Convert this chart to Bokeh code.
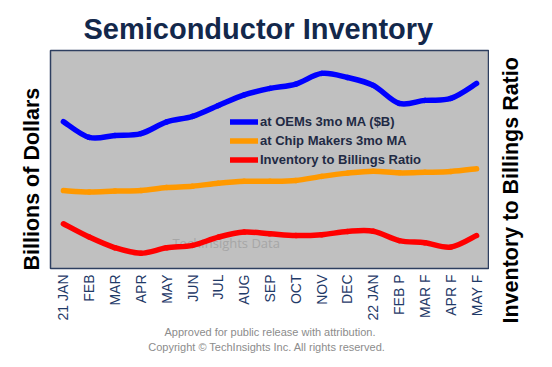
from math import pi
from bokeh.plotting import figure
from bokeh.layouts import row
from bokeh.models import (FactorRange, Range1d, Label, Legend, LegendItem,
                          Title, ColumnDataSource)
from bokeh.embed import file_html
from bokeh.resources import INLINE

months = ["21 JAN", "FEB", "MAR", "APR", "MAY", "JUN", "JUL", "AUG", "SEP",
          "OCT", "NOV", "DEC", "22 JAN", "FEB P", "MAR F", "APR F", "MAY F"]
oem_inventory = [53.9, 48.1, 48.8, 49.5, 53.8, 55.8, 59.8, 63.7, 66.1,
                 67.7, 71.6, 70.1, 67.2, 60.6, 61.7, 62.4, 67.9]
chipmaker_inventory = [28.6, 28.1, 28.4, 28.6, 29.7, 30.2, 31.3, 32.0, 32.0,
                       32.3, 33.8, 35.0, 35.7, 35.1, 35.3, 35.6, 36.6]
inv_to_billings = [0.805, 0.744, 0.695, 0.670, 0.695, 0.706, 0.744, 0.767, 0.759,
                   0.751, 0.755, 0.770, 0.771, 0.728, 0.718, 0.698, 0.751]
series_names = ["at OEMs 3mo MA ($B)", "at Chip Makers 3mo MA", "Inventory to Billings Ratio"]

NAVY = "#13284B"
TICK = "#1F3A68"

p = figure(width=489, height=367, output_backend="svg", toolbar_location=None,
           x_range=FactorRange(factors=months, range_padding=0),
           y_range=Range1d(0, 80),
           min_border_left=50, min_border_right=0, min_border_top=50, min_border_bottom=99)
p.extra_y_ranges = {"ratio": Range1d(0.6, 1.6)}

p.title.text = "Semiconductor Inventory"
p.title.text_font = "Liberation Sans"
p.title.text_font_size = "29px"
p.title.text_font_style = "bold"
p.title.text_color = NAVY
p.title.align = "left"
p.title.offset = 33
p.title.standoff = 12

p.background_fill_color = "#C0C0C0"
p.border_fill_color = "white"
p.outline_line_color = "#2E3F60"
p.outline_line_width = 1.5
p.xgrid.visible = False
p.ygrid.visible = False

p.yaxis.visible = False
p.xaxis.axis_line_color = None
p.xaxis.major_tick_line_color = None
p.xaxis.minor_tick_line_color = None
p.xaxis.major_tick_out = 0
p.xaxis.major_label_orientation = pi / 2
p.xaxis.major_label_standoff = 6
p.xaxis.major_label_text_font = "Liberation Sans"
p.xaxis.major_label_text_font_size = "14px"
p.xaxis.major_label_text_color = TICK

# left vertical axis title
left_title = Title(text="Billions of Dollars", align="left", offset=-2, standoff=14,
                   text_font="Liberation Sans", text_font_size="21.5px",
                   text_font_style="bold", text_color="black")
p.add_layout(left_title, "left")

# footer
for txt in ["Approved for public release with attribution.",
            "Copyright \u00a9  TechInsights Inc.  All rights reserved."]:
    p.add_layout(Title(text=txt, align="center", standoff=1, text_font="Liberation Sans",
                       text_font_size="11px", text_font_style="normal",
                       text_color="#8C8C8C"), "below")

wm = Label(x=175.7, y=26, x_units="screen", y_units="screen", text="TechInsights Data",
           text_align="center", text_baseline="alphabetic", text_font="Open Sans",
           text_font_size="13px", text_color="#A6A6A6", level="underlay")
p.add_layout(wm)


def smooth_source(vals):
    # Catmull-Rom style control points between consecutive data points,
    # on the categorical axis' synthetic coordinates (factor i centred at i + 0.5)
    n = len(vals)
    xs = [i + 0.5 for i in range(n)]
    d = dict(x0=[], y0=[], x1=[], y1=[], cx0=[], cy0=[], cx1=[], cy1=[])
    for i in range(n - 1):
        a = max(i - 1, 0)
        b = min(i + 2, n - 1)
        d["x0"].append(xs[i]); d["y0"].append(vals[i])
        d["x1"].append(xs[i + 1]); d["y1"].append(vals[i + 1])
        d["cx0"].append(xs[i] + (xs[i + 1] - xs[a]) / 6)
        d["cy0"].append(vals[i] + (vals[i + 1] - vals[a]) / 6)
        d["cx1"].append(xs[i + 1] - (xs[b] - xs[i]) / 6)
        d["cy1"].append(vals[i + 1] - (vals[b] - vals[i]) / 6)
    return ColumnDataSource(d)


style = dict(line_width=5.5, line_cap="round", line_join="round")
r1 = p.bezier(x0="x0", y0="y0", x1="x1", y1="y1", cx0="cx0", cy0="cy0", cx1="cx1", cy1="cy1",
              source=smooth_source(oem_inventory), line_color="#0000FF", **style)
r2 = p.bezier(x0="x0", y0="y0", x1="x1", y1="y1", cx0="cx0", cy0="cy0", cx1="cx1", cy1="cy1",
              source=smooth_source(chipmaker_inventory), line_color="#FF9900", **style)
r3 = p.bezier(x0="x0", y0="y0", x1="x1", y1="y1", cx0="cx0", cy0="cy0", cx1="cx1", cy1="cy1",
              source=smooth_source(inv_to_billings), line_color="#FF0000",
              y_range_name="ratio", **style)

legend = Legend(items=[LegendItem(label=series_names[0], renderers=[r1], index=0),
                       LegendItem(label=series_names[1], renderers=[r2], index=0),
                       LegendItem(label=series_names[2], renderers=[r3], index=0)],
                location=(180, 99), padding=0, margin=0, spacing=0,
                glyph_width=28, glyph_height=19, label_height=19, label_standoff=2,
                label_text_font="Liberation Sans", label_text_font_size="13px",
                label_text_font_style="bold", label_text_color="#1F2A44",
                background_fill_alpha=0, border_line_color=None)
p.add_layout(legend)

# right-hand (ratio) axis title, in a narrow companion panel
p2 = figure(width=63, height=367, output_backend="svg", toolbar_location=None,
            min_border_left=36, min_border_right=0, min_border_top=50, min_border_bottom=99)
p2.title.text = ""
p2.axis.visible = False
p2.grid.visible = False
p2.outline_line_color = None
p2.background_fill_color = "white"
p2.border_fill_color = "white"
p2.add_layout(Title(text="Inventory to Billings Ratio", align="left", offset=-55, standoff=14,
                    text_font="Liberation Sans", text_font_size="21.5px",
                    text_font_style="bold", text_color="black"), "left")

layout = row(p, p2, spacing=0)
open("out.html", "w").write(file_html(layout, INLINE))
